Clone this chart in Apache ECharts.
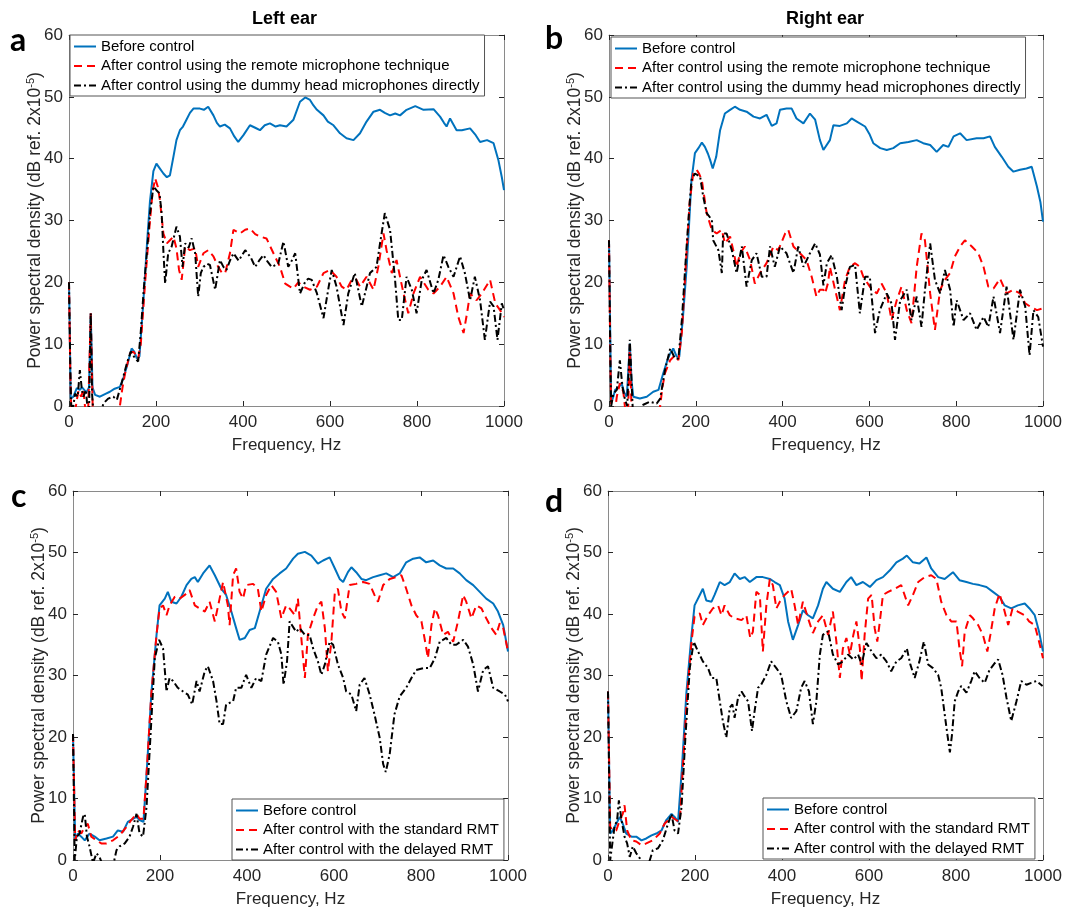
<!DOCTYPE html>
<html>
<head>
<meta charset="utf-8">
<script src="https://cdn.jsdelivr.net/npm/echarts@6/dist/echarts.min.js"></script>
<style>
  html, body { margin: 0; background: #fff; }
  #chart { width: 1073px; height: 909px; }
</style>
</head>
<body>
<div id="chart"></div>
<script>
// ---- data: [frequency Hz, PSD dB] ----
var aBefore = [[0,20],[4,1.2],[10,1.5],[18,2.9],[25,2.6],[30,3],[40,2.2],[46,3],[50,15],[54,3],[60,1.8],[71,1.5],[85,2],[94,2.3],[105,2.8],[117,3.1],[125,4.5],[133,6.4],[144,9.3],[150,8.8],[156,7.7],[162,8.0],[171,17],[180,27],[186,33],[194,38],[201,39.2],[209,38.4],[217,37.6],[225,37],[232,37.3],[240,40.3],[247,43],[255,44.6],[262,45.2],[270,46.3],[278,47.4],[286,48.1],[301,48.1],[310,47.9],[320,48.4],[332,47],[340,45.8],[347,45.2],[358,45.5],[370,44.9],[380,43.6],[389,42.7],[401,43.8],[416,45.4],[428,45],[439,44.6],[450,45.4],[462,45.7],[475,45.2],[485,45.4],[500,45.2],[516,46.3],[531,49.2],[543,49.9],[554,49.5],[562,48.6],[570,47.9],[585,47],[595,46],[608,45.4],[623,44.1],[638,43.3],[654,43],[669,44.1],[684,46],[700,47.6],[715,47.9],[726,47.4],[738,47],[750,47.3],[761,47],[776,47.9],[796,48.5],[815,47.9],[838,48],[853,46.8],[862,45.8],[868,45.2],[876,46.5],[891,44.6],[903,44.6],[922,44.9],[935,43.8],[945,42.7],[961,43],[976,42.5],[987,39.8],[995,37],[1000,34.9]];
var aRemote = [[0,20],[3,5],[5,0],[12,-2],[18,1],[22,2.5],[28,1.5],[33,2.8],[38,-1],[44,-1],[50,15],[55,-2],[80,-3],[110,-3],[117,0],[123,3],[129,5.3],[140,8.5],[148,8.8],[159,7.7],[165,10],[175,20],[185,29],[192,34.5],[198,36.8],[204,35.5],[209,33.3],[217,27.9],[225,26.3],[232,26.8],[240,27.4],[247,25.5],[253,22],[259,20.4],[263,23],[267,25.8],[278,25.2],[290,25.5],[297,22.5],[309,24.7],[320,25.2],[332,24.2],[343,22.5],[352,21.5],[359,21.5],[370,24.7],[378,28.5],[393,27.9],[405,28.5],[416,28.7],[428,27.8],[439,27.4],[454,27.1],[470,24.7],[485,22.5],[497,19.8],[508,19.3],[516,19],[527,20],[539,19.3],[554,18.8],[570,19.3],[585,21.5],[600,22],[615,20.9],[627,19.3],[638,18.8],[650,20.4],[660,20.5],[669,19.3],[684,20.9],[700,18.8],[711,22.5],[723,27.9],[730,25.2],[742,21.5],[753,23.6],[769,18.2],[780,15],[792,18.2],[807,20.9],[826,18.8],[838,18.2],[853,19.3],[868,20.9],[884,18.2],[895,14.4],[907,11.8],[915,15],[922,18.2],[937,17.1],[949,18.2],[968,20.4],[980,16.6],[991,15.5],[1000,14.4]];
var aDummy = [[0,20],[3,6],[5,0],[10,0],[14,2],[20,1.5],[25,5.8],[29,3],[33,1.5],[39,2.6],[42,0],[46,-1],[50,15],[53,2],[56,-1],[70,-2],[79,0.4],[90,1.2],[102,1.5],[110,1],[121,3.7],[133,6.9],[142,8.8],[152,7.7],[159,7.2],[165,12],[172,19],[179,24.7],[186,31],[194,35.5],[201,34.9],[208,34.4],[213,31.2],[217,25],[221,19.8],[228,24.7],[236,25.8],[247,29],[255,27.4],[261,22.5],[267,26.3],[275,25.6],[282,27.1],[290,24.7],[297,17.7],[303,21.5],[309,22.5],[318,23],[324,22.8],[336,18.8],[347,23.6],[355,22.5],[362,22],[370,23.5],[378,24.7],[390,23.5],[405,25.2],[418,24],[428,22.5],[437,23.5],[447,24.4],[457,23.3],[466,22.5],[481,23],[493,26.6],[504,22.5],[512,23.5],[520,24.7],[531,18.2],[543,20.1],[550,20.6],[558,20.4],[570,18.2],[585,14.2],[597,19.3],[604,22],[615,19.3],[631,13.1],[642,18.2],[657,21.5],[673,16.1],[692,21.5],[707,22.5],[715,26.3],[726,31.2],[738,28.5],[749,20.9],[757,13.9],[765,13.9],[776,20.9],[788,18.8],[799,15],[811,20.4],[822,22],[838,18.2],[849,20.4],[861,24.4],[872,22.5],[884,20.9],[899,24.2],[910,21.5],[922,17.1],[933,20.9],[945,17.1],[956,10.7],[968,16.9],[976,16.1],[985,10.7],[995,16.6],[1000,15.5]];

var bBefore = [[0,26.8],[5,0.5],[10,1.5],[14,2.6],[21,2.9],[29,3.7],[35,2.2],[41,1.5],[48,10.1],[52,4],[56,1.5],[71,1.2],[87,1.5],[102,2.3],[114,2.6],[125,5.3],[135,7.5],[141,8.5],[148,9.3],[156,8],[162,8],[170,14],[179,22.5],[185,30],[190,36.5],[198,40.9],[206,41.7],[214,42.6],[221,41.9],[228,40.8],[233,39.8],[239,38.4],[247,40.3],[256,44.6],[267,47.3],[279,47.9],[290,48.4],[302,47.9],[317,47.6],[333,46.8],[348,46.5],[363,47.1],[375,45.3],[386,45.7],[394,47.9],[409,48.1],[421,48.1],[432,46.5],[448,45.7],[463,47.3],[475,46.3],[486,43],[494,41.4],[498,41.1],[509,43],[517,45.4],[532,45.3],[548,45.7],[559,46.5],[571,46],[590,45.2],[600,44],[609,42.5],[625,41.7],[640,41.4],[655,41.7],[671,42.5],[690,42.7],[709,43],[724,42.5],[740,42.2],[755,41.1],[770,42.2],[782,41.9],[794,43.6],[809,44.1],[824,43],[847,43.3],[863,43.3],[878,43.6],[889,41.9],[905,40.3],[920,38.7],[932,37.9],[947,38.2],[962,38.4],[974,38.7],[986,35.5],[994,33],[1000,29.8]];
var bRemote = [[0,26.8],[3,8],[5,0],[12,-2],[18,1.5],[25,3.7],[33,2.3],[38,-1],[44,-1],[48,10],[52,-1],[60,-3],[110,-3],[118,0],[123,3],[129,5.3],[141,7.4],[152,8.2],[160,7.4],[168,12],[178,24],[186,33],[194,37.6],[202,38.2],[208,37.5],[214,36.5],[225,31.2],[237,28.5],[248,27.9],[260,28.5],[267,26.3],[279,27.4],[287,25],[294,22.5],[302,24.7],[313,25.8],[325,23.6],[336,19.8],[348,21.5],[363,23.1],[379,25.8],[390,25.2],[406,27.9],[413,28.5],[425,25.8],[440,24.7],[455,23.6],[467,20.9],[478,17.7],[486,18.8],[494,18.8],[498,18.2],[505,20],[509,22.5],[521,18.8],[532,15.5],[544,20.4],[555,22.5],[567,23.1],[578,22.5],[586,20.9],[601,19.3],[617,18.2],[628,19.8],[640,18.2],[651,13.9],[663,17.1],[674,19.3],[686,15.5],[697,13.4],[709,22.5],[720,27.9],[728,26.8],[740,18.2],[751,12.3],[763,18.8],[774,20.4],[786,21.5],[797,24.2],[809,25.8],[820,26.8],[836,25.8],[851,24.7],[863,22.5],[874,19.3],[886,19],[901,20.6],[916,18.2],[932,18.8],[947,18.2],[959,16.6],[970,16.1],[986,15.5],[1000,15.8]];
var bDummy = [[0,26.8],[3,8],[5,0],[10,2],[18,2.6],[25,7.4],[31,3.1],[37,1],[42,0],[48,10.7],[55,-1],[65,-2],[79,0.2],[94,0.7],[110,0.4],[118,1.2],[129,5.8],[141,9.3],[152,7.7],[160,7.7],[168,14],[178,25],[185,32],[190,36.5],[198,37.6],[210,37.1],[217,33.9],[225,31.2],[237,30.1],[240,26.8],[252,25.2],[260,21.5],[263,27.9],[271,27.9],[283,25.2],[294,21.5],[306,25.8],[317,19.3],[329,23.6],[340,24.7],[352,20.9],[363,20.9],[371,25.8],[382,22.5],[394,25.8],[409,24.7],[425,21.5],[436,25.8],[448,22.5],[463,24.7],[475,26.3],[486,24.5],[494,19.5],[502,23.1],[513,24.4],[525,20.9],[536,15.5],[544,19.3],[555,22.5],[567,22.8],[578,15],[590,20.9],[601,20.9],[613,11.8],[624,15.5],[640,18.2],[651,16.6],[659,10.7],[671,17.1],[686,18.8],[697,13.9],[709,17.7],[720,12.8],[728,18.8],[740,26.3],[751,20.4],[763,18.2],[774,22],[786,18.8],[794,12.8],[801,17.1],[817,13.9],[832,15],[847,12.3],[863,14.4],[874,12.8],[886,17.7],[901,11.8],[916,19.3],[932,10.7],[947,18.8],[959,16.1],[969,8.2],[978,15.5],[989,14.4],[1000,9.6]];

var cBefore = [[0,20.5],[5,3.2],[11,4.3],[19,3.8],[27,3.2],[38,4.3],[50,3.8],[61,3.2],[77,3.5],[92,3.8],[103,4.8],[115,4.6],[126,6.2],[138,6.7],[146,7],[153,6.5],[162,6.2],[170,15],[180,27],[192,36.6],[199,41.4],[211,42.5],[218,43.6],[226,42],[238,41.7],[249,42.8],[261,44.7],[272,45.7],[280,46],[287,45.2],[299,46.6],[314,47.9],[326,46.3],[341,44.1],[352,43.1],[364,40.4],[375,37.7],[383,35.8],[395,36.1],[406,37.4],[418,37.7],[429,40.4],[444,44.1],[460,45.7],[475,46.6],[490,47.4],[506,49],[517,49.8],[533,50.1],[548,49.5],[563,48.2],[575,48.7],[590,49.2],[602,47.4],[613,45.7],[621,45.2],[632,46.8],[640,47.6],[651,46.8],[663,45.7],[674,45.5],[690,46],[705,46.3],[720,46.6],[736,46],[751,46.6],[766,48.4],[782,49],[797,49.2],[812,48.4],[828,48.7],[843,47.9],[858,47.4],[874,47.4],[889,46.6],[904,45.5],[920,44.7],[935,43.6],[950,42.5],[966,41.7],[977,40.4],[989,38.2],[1000,33.9]];
var cStandard = [[0,20.5],[5,3.2],[11,4.8],[19,4.3],[27,5.4],[34,5.9],[42,3.8],[54,3.2],[65,2.7],[77,2.7],[92,3.2],[107,4],[123,5.4],[134,6.5],[146,7.5],[153,6.7],[162,6.7],[170,15],[180,27],[192,36.6],[199,40.9],[207,41.4],[215,39.8],[222,41.4],[234,42.8],[245,42.5],[257,43.1],[268,43.9],[280,41.4],[291,40.9],[303,40.4],[314,42],[326,38.8],[337,42.5],[345,45.2],[356,41.4],[360,38.2],[368,46.3],[375,47.4],[383,43.6],[391,42.5],[398,44.7],[414,44.9],[425,44.1],[433,40.4],[444,43.1],[456,44.7],[467,43.6],[479,39.3],[490,41.4],[498,40.9],[510,39.8],[517,42.5],[525,36],[533,29.6],[540,36.6],[552,39.3],[563,41.4],[571,42],[579,37.7],[586,30.7],[594,35.5],[602,43.6],[609,44.1],[617,40.4],[625,39.3],[636,44.7],[651,44.9],[667,45.2],[682,44.9],[693,43.1],[701,42],[713,44.7],[728,45.7],[743,46],[755,46.3],[766,44.1],[778,41.4],[789,39.8],[801,38.8],[808,36.1],[816,32.8],[824,38.2],[832,40.9],[839,39.8],[851,36.6],[862,37.1],[874,35.5],[885,38.8],[897,43.1],[904,42],[916,39.3],[927,41.4],[939,40.9],[950,39.3],[962,37.7],[973,36.6],[981,38.5],[989,37.7],[1000,33.9]];
var cDelayed = [[0,20.5],[4,0],[9,3.8],[15,4.3],[23,7],[27,7.5],[32,3.8],[38,2.2],[46,-0.5],[54,1.1],[61,0.5],[69,-1],[92,-1],[100,1.6],[107,2.2],[119,2.7],[130,3.8],[138,5.4],[146,7.5],[153,4.3],[161,3.8],[169,8.6],[178,20],[188,32.8],[198,35.8],[207,34.4],[215,27.4],[222,29.6],[230,29.1],[241,28],[253,27.4],[264,26.9],[274,25.3],[284,29.1],[291,27.4],[303,30.7],[310,31.5],[322,29.1],[330,25.8],[337,22.1],[345,22.1],[352,25.3],[368,25.8],[375,28],[387,28],[398,30.1],[410,28],[421,29.6],[433,29.1],[444,33.4],[460,36.1],[471,35.5],[479,33.4],[484,28.5],[492,32.3],[498,38.8],[513,37.1],[521,37.7],[533,36.6],[544,36.6],[552,34.4],[563,32.3],[571,30.1],[579,31.8],[590,35.5],[598,35],[609,31.8],[621,29.6],[628,27.4],[640,26.9],[651,24.2],[659,28.5],[670,29.6],[682,26.9],[693,23.7],[705,19.9],[713,15.6],[719,14.3],[728,17.2],[739,23.7],[751,26.6],[766,28],[778,29.6],[789,30.9],[805,31.2],[820,31.2],[832,32.8],[843,35.5],[858,36.1],[870,35],[881,35],[897,35.8],[908,34.7],[920,31.8],[931,27.4],[943,30.9],[954,31.5],[966,28],[981,27.4],[993,26.9],[1000,25.8]];

var dBefore = [[0,27.4],[5,4.3],[11,4.8],[19,5.9],[27,7],[34,5.9],[42,4.3],[54,3.8],[65,3.8],[77,3.2],[88,3.5],[100,4],[111,4.3],[123,4.8],[134,6.5],[146,7.5],[153,7],[161,6.2],[170,15],[180,27],[192,36.6],[199,41.4],[211,43.1],[218,44.1],[226,42.2],[238,42],[245,43.1],[257,45.2],[268,44.7],[280,45.2],[291,46.6],[303,45.7],[314,46],[326,45.2],[341,46],[356,46],[372,45.7],[383,45.2],[395,44.7],[406,42.5],[414,38.8],[425,35.8],[437,38.2],[448,40.6],[460,39.8],[471,39.3],[483,41.4],[494,44.1],[502,45.2],[517,44.1],[533,43.6],[548,45.2],[559,46],[571,44.7],[586,45.2],[602,44.4],[617,45.5],[632,46],[648,47.1],[663,48.4],[678,49],[687,49.5],[701,48.4],[716,48.2],[732,49.2],[743,47.4],[759,46],[774,45.7],[793,46.8],[808,45.5],[824,45.2],[839,44.9],[854,44.7],[870,44.4],[885,43.6],[900,42.8],[912,41.4],[927,40.9],[942,41.4],[958,41.7],[969,40.9],[981,39.8],[991,37.1],[1000,33.9]];
var dStandard = [[0,27.4],[5,5.4],[11,4.8],[19,4.8],[27,6.5],[34,7.5],[38,8.9],[44,4.8],[54,3.2],[65,3],[77,2.4],[88,2.7],[103,3.2],[119,4.3],[130,5.9],[146,7],[157,6.5],[165,6.2],[172,15],[182,27],[192,35.5],[199,39.6],[211,40.1],[218,38.2],[230,39.8],[241,40.9],[253,41.4],[261,39.8],[268,41.4],[280,39.8],[291,39.3],[307,39],[318,39.8],[327,36.1],[333,37.1],[341,43.6],[349,43.1],[356,33.9],[364,41.4],[372,45.7],[379,44.7],[387,40.9],[395,42],[406,43.1],[421,44.1],[429,41.4],[437,38.2],[448,42],[460,39.3],[471,36.9],[483,38.8],[494,39.8],[506,36.6],[517,40.4],[525,35.5],[533,29.6],[540,34.4],[548,36.1],[556,33.4],[564,36.6],[571,38.8],[579,34.4],[583,29.1],[590,36.6],[598,42.5],[606,43.1],[613,37.7],[619,35.5],[625,38.8],[632,43.1],[644,43.6],[659,44.1],[674,44.7],[690,41.4],[701,43.1],[713,45.2],[728,46],[743,46.3],[755,45.7],[766,42],[778,39.8],[789,38.8],[801,38.8],[808,34.4],[814,31.5],[820,37.1],[832,39.8],[839,39.3],[851,38.2],[862,36.6],[872,33.9],[879,36.6],[889,40.9],[900,43.3],[910,40.9],[920,38.2],[930,40.9],[942,40.4],[958,39.8],[968,38.8],[981,38.2],[991,35.5],[1000,32.8]];
var dDelayed = [[0,27.4],[5,0],[10,2.7],[15,5.4],[21,6.5],[25,9.7],[31,6.5],[38,3.8],[44,2.7],[50,0.5],[57,2.2],[65,1.1],[73,0.3],[80,-1],[92,-1],[103,1.6],[115,1.9],[126,3.2],[138,5.9],[146,7.5],[153,4.8],[161,4.3],[169,8.6],[178,20],[188,31.2],[197,35.5],[207,33.9],[218,32.3],[230,31.2],[238,29.6],[249,29.6],[257,25.8],[264,22.6],[272,19.9],[280,24.8],[286,25.3],[291,23.1],[299,26.4],[307,27.4],[314,26.6],[322,25.8],[331,21],[337,24.2],[345,28],[352,28.5],[364,30.1],[375,32.3],[387,31.2],[398,30.1],[410,25.8],[421,23.1],[433,24.2],[444,28],[452,29.1],[462,27.4],[471,22.1],[479,25.8],[487,33.4],[494,36.6],[506,37.2],[517,33.4],[529,31.8],[540,32.3],[552,33.4],[564,32.6],[575,33.4],[583,31.8],[594,35.3],[606,33.9],[617,32.8],[628,33.4],[640,32.3],[651,30.7],[663,32.3],[674,32.8],[687,34.4],[695,31.8],[705,29.6],[716,32.3],[726,35.5],[736,31.8],[747,31.2],[759,30.1],[766,28],[774,23.7],[780,20.5],[786,17.5],[791,20.5],[797,25.8],[805,27.4],[812,28.3],[824,27.2],[835,29.1],[843,30.7],[854,29.6],[866,28.8],[877,30.9],[889,32],[897,32.6],[907,30.1],[916,26.4],[927,22.6],[939,25.8],[950,29.1],[962,28.5],[973,28.8],[985,29.1],[999,28.3]];

var namesTop = ['Before control', 'After control using the remote microphone technique', 'After control using the dummy head microphones directly'];
var namesBottom = ['Before control', 'After control with the standard RMT', 'After control with the delayed RMT'];

var chart = echarts.init(document.getElementById('chart'));

var FONT = '"Liberation Sans", Arial, sans-serif';
var LETTER_FONT = 'bold 32px Lato, "Open Sans", sans-serif';
var AXIS_COLOR = '#262626';
var BOX_COLOR = '#8a8a8a';

// line styles in the order: before, after (dashed red), after (dash-dot black)
var lineStyles = [
    { color: '#0072BD', width: 2, type: 'solid' },
    { color: '#FF0000', width: 2, type: [8, 5] },
    { color: '#000000', width: 2, type: [7, 3, 2, 3] }
];

var panels = [
    { grid: { left: 69, top: 35, width: 435, height: 371 }, data: [aBefore, aRemote, aDummy], names: namesTop, legend: { left: 70, top: 35 } },
    { grid: { left: 609, top: 35, width: 434, height: 371 }, data: [bBefore, bRemote, bDummy], names: namesTop, legend: { left: 611, top: 37 } },
    { grid: { left: 73, top: 491, width: 435, height: 372 }, data: [cBefore, cStandard, cDelayed], names: namesBottom, legend: { left: 232, top: 799 } },
    { grid: { left: 608, top: 491, width: 435, height: 372 }, data: [dBefore, dStandard, dDelayed], names: namesBottom, legend: { left: 763, top: 798 } }
];

var grids = [], xAxes = [], yAxes = [], series = [], legends = [];

panels.forEach(function(p, i) {
    grids.push({ left: p.grid.left, top: p.grid.top, width: p.grid.width, height: p.grid.height, containLabel: false });

    // bottom axis with labels
    xAxes.push({
        type: 'value', gridIndex: i, min: 0, max: 1000, interval: 200,
        name: 'Frequency, Hz', nameLocation: 'middle', nameGap: 31,
        nameTextStyle: { fontFamily: FONT, fontSize: 17, color: AXIS_COLOR },
        axisLine: { show: true, onZero: false, lineStyle: { color: BOX_COLOR } },
        axisTick: { show: true, inside: true, length: 5, lineStyle: { color: AXIS_COLOR } },
        axisLabel: { fontFamily: FONT, fontSize: 17, color: AXIS_COLOR, margin: 8,
                     formatter: function(v) { return String(v); } },
        splitLine: { show: false }
    });
    // mirrored top axis (box + ticks only)
    xAxes.push({
        type: 'value', gridIndex: i, position: 'top', min: 0, max: 1000, interval: 200,
        axisLine: { show: true, onZero: false, lineStyle: { color: BOX_COLOR } },
        axisTick: { show: true, inside: true, length: 5, lineStyle: { color: AXIS_COLOR } },
        axisLabel: { show: false }, splitLine: { show: false }
    });
    // left axis with labels
    yAxes.push({
        type: 'value', gridIndex: i, min: 0, max: 60, interval: 10,
        name: 'Power spectral density (dB ref. 2x10{sup|-5})',
        nameLocation: 'middle', nameGap: 24, nameRotate: 90, nameMoveOverlap: false,
        nameTextStyle: {
            fontFamily: FONT, fontSize: 17.5, color: AXIS_COLOR,
            rich: { sup: { fontFamily: FONT, fontSize: 11, color: AXIS_COLOR, verticalAlign: 'top', lineHeight: 20 } }
        },
        axisLine: { show: true, onZero: false, lineStyle: { color: BOX_COLOR } },
        axisTick: { show: true, inside: true, length: 5, lineStyle: { color: AXIS_COLOR } },
        axisLabel: { fontFamily: FONT, fontSize: 17, color: AXIS_COLOR, margin: 6 },
        splitLine: { show: false }
    });
    // mirrored right axis
    yAxes.push({
        type: 'value', gridIndex: i, position: 'right', min: 0, max: 60, interval: 10,
        axisLine: { show: true, onZero: false, lineStyle: { color: BOX_COLOR } },
        axisTick: { show: true, inside: true, length: 5, lineStyle: { color: AXIS_COLOR } },
        axisLabel: { show: false }, splitLine: { show: false }
    });

    p.data.forEach(function(d, k) {
        series.push({
            name: p.names[k],
            type: 'line',
            xAxisIndex: 2 * i,
            yAxisIndex: 2 * i,
            data: d,
            symbol: 'none',
            clip: true,
            animation: false,
            lineStyle: lineStyles[k],
            itemStyle: { color: lineStyles[k].color },
            z: 2 + k
        });
    });

    legends.push({
        left: p.legend.left, top: p.legend.top,
        orient: 'vertical',
        itemWidth: 22, itemHeight: 15, itemGap: 4.5,
        padding: [4, 5, 3, 3],
        borderColor: '#555', borderWidth: 1, backgroundColor: '#fff',
        textStyle: { fontFamily: FONT, fontSize: 15, color: '#000' },
        itemStyle: { opacity: 0 },
        selectedMode: false,
        data: p.names,
        z: 10
    });
});

var option = {
    backgroundColor: '#fff',
    animation: false,
    grid: grids,
    xAxis: xAxes,
    yAxis: yAxes,
    legend: legends,
    series: series,
    graphic: [
        { type: 'text', left: 252, top: 10, style: { text: 'Left ear', font: 'bold 18px ' + FONT, fill: '#000' } },
        { type: 'text', left: 786, top: 10, style: { text: 'Right ear', font: 'bold 18px ' + FONT, fill: '#000' } },
        { type: 'text', left: 10, top: 25, style: { text: 'a', font: LETTER_FONT, fill: '#000' } },
        { type: 'text', left: 545, top: 23, style: { text: 'b', font: LETTER_FONT, fill: '#000' } },
        { type: 'text', left: 11, top: 481, style: { text: 'c', font: LETTER_FONT, fill: '#000' } },
        { type: 'text', left: 545, top: 486, style: { text: 'd', font: LETTER_FONT, fill: '#000' } }
    ]
};

chart.setOption(option);
</script>
</body>
</html>
